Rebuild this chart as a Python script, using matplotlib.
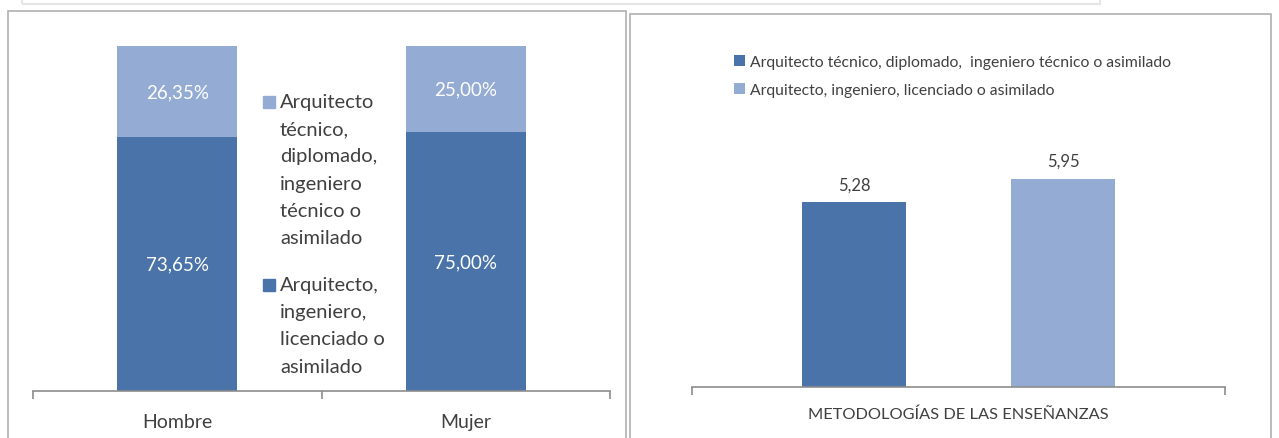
import matplotlib
matplotlib.use("Agg")
import matplotlib.pyplot as plt
from matplotlib.patches import Rectangle

plt.rcParams['font.family'] = ['Lato', 'DejaVu Sans']

# ---- datos ----
sexos = ["Hombre", "Mujer"]
pct_superior = [73.65, 75.00]     # Arquitecto, ingeniero, licenciado o asimilado
pct_tecnico = [26.35, 25.00]      # Arquitecto técnico, diplomado, ingeniero técnico o asimilado
etiqueta_tecnico_izq = "Arquitecto\ntécnico,\ndiplomado,\ningeniero\ntécnico o\nasimilado"
etiqueta_superior_izq = "Arquitecto,\ningeniero,\nlicenciado o\nasimilado"

categoria_der = "METODOLOGÍAS DE LAS ENSEÑANZAS"
series_der = ["Arquitecto técnico, diplomado,  ingeniero técnico o asimilado",
              "Arquitecto, ingeniero, licenciado o asimilado"]
valores_der = [5.28, 5.95]

OSCURO = "#4A74A9"
CLARO = "#94ABD3"
TEXTO = "#404040"
EJE = "#8C8C8C"

W, H = 1279, 439
fig = plt.figure(figsize=(W / 100, H / 100), dpi=100)


def px(x0, y0, x1, y1):
    # caja en pixeles (origen arriba-izquierda) -> fracciones de figura
    return [x0 / W, 1 - y1 / H, (x1 - x0) / W, (y1 - y0) / H]


# marcos de los dos paneles
fig.patches.append(Rectangle((8 / W, -0.05), (626 - 8) / W, 1.05 - 12 / H,
                             transform=fig.transFigure, fill=False, ec="#B0B0B0", lw=1.2))
fig.patches.append(Rectangle((630 / W, -0.05), (1271 - 630) / W, 1.05 - 15 / H,
                             transform=fig.transFigure, fill=False, ec="#B0B0B0", lw=1.2))
# franja gris superior
fig.patches.append(Rectangle((22 / W, 1 - 5 / H), (1100 - 22) / W, 0.05,
                             transform=fig.transFigure, fill=False, ec="#E6E6E6", lw=1.5))

# ---- panel izquierdo: barras apiladas ----
ax1 = fig.add_axes(px(33, 47, 610, 392))
pos = range(len(sexos))
ax1.bar(pos, pct_superior, width=0.417, color=OSCURO)
ax1.bar(pos, pct_tecnico, width=0.417, bottom=pct_superior, color=CLARO)
for i in pos:
    ax1.text(i, pct_superior[i] / 2, f"{pct_superior[i]:.2f}%".replace(".", ","),
             ha="center", va="center", color="white", fontsize=13.5)
    ax1.text(i, pct_superior[i] + pct_tecnico[i] / 2, f"{pct_tecnico[i]:.2f}%".replace(".", ","),
             ha="center", va="center", color="white", fontsize=13.5)
ax1.set_xlim(-0.5, 1.5)
ax1.set_ylim(0, 100)
ax1.set_yticks([])
ax1.set_xticks(list(pos))
ax1.set_xticklabels(sexos, fontsize=14, color=TEXTO)
ax1.tick_params(axis="x", which="major", length=0, pad=16)
ax1.set_xticks([-0.5, 0.5, 1.5], minor=True)
ax1.tick_params(axis="x", which="minor", length=6, color=EJE, width=1.2)
for s in ["top", "left", "right"]:
    ax1.spines[s].set_visible(False)
ax1.spines["bottom"].set_color(EJE)
ax1.spines["bottom"].set_linewidth(1.2)

# leyenda manual
for etiqueta, color, ytop in [(etiqueta_tecnico_izq, CLARO, 103), (etiqueta_superior_izq, OSCURO, 286)]:
    fig.patches.append(Rectangle((263 / W, 1 - (ytop + 6) / H), 12 / W, 12 / H,
                                 transform=fig.transFigure, color=color))
    fig.text(280 / W, 1 - (ytop - 9) / H, etiqueta, ha="left", va="top",
             fontsize=14.5, color=TEXTO, linespacing=1.73)

# ---- panel derecho: barras agrupadas ----
ax2 = fig.add_axes(px(692, 143, 1225, 388))
offs = [-0.196, 0.196]
colores = [OSCURO, CLARO]
for o, v, c, nombre in zip(offs, valores_der, colores, series_der):
    ax2.bar(o, v, width=0.195, color=c, label=nombre)
    ax2.text(o, v + 0.28, f"{v:.2f}".replace(".", ","), ha="center", va="bottom",
             fontsize=12, color=TEXTO)
ax2.set_xlim(-0.5, 0.5)
ax2.set_ylim(0, 7)
ax2.set_yticks([])
ax2.set_xticks([0])
ax2.set_xticklabels([categoria_der], fontsize=11.8, color=TEXTO)
ax2.tick_params(axis="x", which="major", length=0, pad=14)
ax2.set_xticks([-0.5, 0.5], minor=True)
ax2.tick_params(axis="x", which="minor", length=6, color=EJE, width=1.2)
for s in ["top", "left", "right"]:
    ax2.spines[s].set_visible(False)
ax2.spines["bottom"].set_color(EJE)
ax2.spines["bottom"].set_linewidth(1.2)

leg = ax2.legend(loc="upper left", bbox_to_anchor=((728 - 692) / 533, 1 + (143 - 50) / 245),
                 frameon=False, fontsize=11.3, handlelength=0.7, handleheight=0.7,
                 handletextpad=0.3, labelspacing=0.85, borderaxespad=0)
for t in leg.get_texts():
    t.set_color(TEXTO)

fig.savefig("out.png", dpi=100)
